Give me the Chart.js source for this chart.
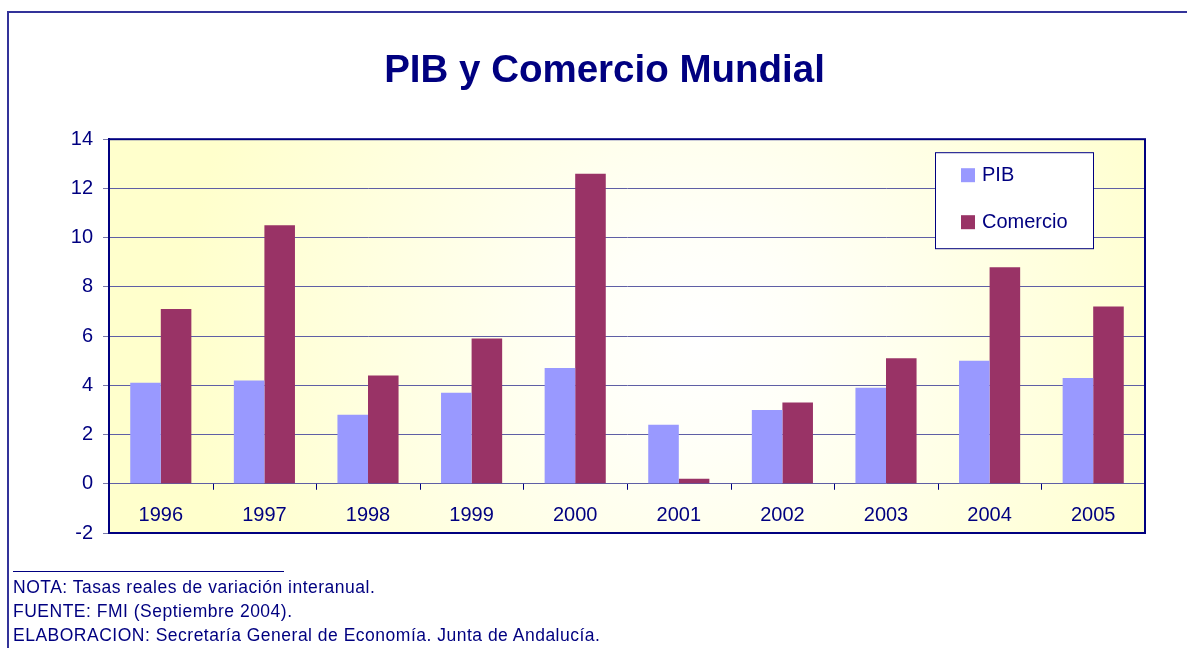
<!DOCTYPE html>
<html>
<head>
<meta charset="utf-8">
<title>PIB y Comercio Mundial</title>
<script src="https://cdn.jsdelivr.net/npm/chart.js@4.4.1/dist/chart.umd.min.js"></script>
<style>
  body { margin: 0; background: #fff; }
  #marco { position: absolute; left: 7px; top: 11px; width: 1180px; height: 637px;
           border-left: 2px solid #333399; border-top: 2px solid #333399; }
  #grafico { position: absolute; left: 0; top: 0; }
  #notas { position: absolute; left: 13px; top: 571px; color: #000080; letter-spacing: 0.5px;
           font-family: 'Liberation Sans', Arial, sans-serif; font-size: 17.5px; line-height: 24px; }
  #linea { width: 271px; border-top: 1px solid #000080; margin-bottom: 3px; }
</style>
</head>
<body>
<div id="marco"></div>
<canvas id="grafico" width="1187" height="648"></canvas>
<div id="notas">
  <div id="linea"></div>
  <div>NOTA: Tasas reales de variación interanual.</div>
  <div>FUENTE: FMI (Septiembre 2004).</div>
  <div>ELABORACION: Secretaría General de Economía. Junta de Andalucía.</div>
</div>
<script>
// Datos
const anios = ['1996', '1997', '1998', '1999', '2000', '2001', '2002', '2003', '2004', '2005'];
const pib = [4.1, 4.2, 2.8, 3.7, 4.7, 2.4, 3.0, 3.9, 5.0, 4.3];
const comercio = [7.1, 10.5, 4.4, 5.9, 12.6, 0.2, 3.3, 5.1, 8.8, 7.2];

const azul = '#000080';
const fuente = "'Liberation Sans', Arial, sans-serif";

// Fondo degradado del área de trazado
const fondo = {
    id: 'fondo',
    beforeDraw(chart) {
        const { ctx, chartArea: a } = chart;
        const g = ctx.createRadialGradient(a.left + a.width * 0.57, a.top + a.height * 0.5, 0,
                                           a.left + a.width * 0.57, a.top + a.height * 0.5, 520);
        g.addColorStop(0, '#ffffff');
        g.addColorStop(0.2, '#fffff8');
        g.addColorStop(1, '#ffffcc');
        ctx.save();
        ctx.fillStyle = g;
        ctx.fillRect(a.left, a.top, a.width, a.height);
        ctx.restore();
    }
};

// Etiquetas de años dentro del área, marcas del eje, borde y leyenda
const extras = {
    id: 'extras',
    afterDraw(chart) {
        const { ctx, chartArea: a, scales: { x, y } } = chart;
        ctx.save();

        // marcas entre categorías bajo la línea del cero
        const y0 = y.getPixelForValue(0);
        ctx.strokeStyle = azul;
        ctx.lineWidth = 1;
        for (let i = 1; i < anios.length; i++) {
            const px = Math.round((x.getPixelForValue(i - 1) + x.getPixelForValue(i)) / 2) + 0.5;
            ctx.beginPath();
            ctx.moveTo(px, y0);
            ctx.lineTo(px, y0 + 6);
            ctx.stroke();
        }

        // años
        ctx.fillStyle = azul;
        ctx.font = '20px ' + fuente;
        ctx.textAlign = 'center';
        ctx.textBaseline = 'middle';
        anios.forEach((anio, i) => {
            ctx.fillText(anio, x.getPixelForValue(i), y.getPixelForValue(-1) + 7);
        });

        // borde del área de trazado
        ctx.strokeStyle = azul;
        ctx.lineWidth = 2;
        ctx.strokeRect(a.left, a.top, a.width, a.height);

        // leyenda
        const lx = a.right - 210, ly = a.top + 13;
        ctx.fillStyle = '#ffffff';
        ctx.fillRect(lx, ly, 158, 96);
        ctx.strokeStyle = azul;
        ctx.lineWidth = 1;
        ctx.strokeRect(lx + 0.5, ly + 0.5, 158, 96);
        ctx.textAlign = 'left';
        chart.data.datasets.forEach((ds, i) => {
            const cy = ly + 23 + i * 47;
            ctx.fillStyle = ds.backgroundColor;
            ctx.fillRect(lx + 26, cy - 7, 14, 14);
            ctx.fillStyle = azul;
            ctx.fillText(ds.label, lx + 47, cy);
        });
        ctx.restore();
    }
};

new Chart(document.getElementById('grafico'), {
    type: 'bar',
    data: {
        labels: anios,
        datasets: [
            { label: 'PIB', data: pib, backgroundColor: '#9999ff' },
            { label: 'Comercio', data: comercio, backgroundColor: '#993366' }
        ]
    },
    options: {
        responsive: false,
        animation: false,
        layout: { padding: { left: 64, right: 42, top: 0, bottom: 115 } },
        categoryPercentage: 0.59,
        barPercentage: 1,
        plugins: {
            legend: { display: false },
            tooltip: { enabled: false },
            title: {
                display: true,
                text: 'PIB y Comercio Mundial',
                color: azul,
                font: { family: fuente, size: 38.5, weight: 'bold' },
                padding: { top: 48, bottom: 45 }
            }
        },
        scales: {
            x: { display: false },
            y: {
                min: -2,
                max: 14,
                ticks: { stepSize: 2, color: azul, padding: 10, font: { family: fuente, size: 20 } },
                grid: { color: '#5f5fa5', tickColor: '#7777aa', tickLength: 6 },
                border: { color: azul, width: 2 },
                afterFit(scale) { scale.width = 45; }
            }
        }
    },
    plugins: [fondo, extras]
});
</script>
</body>
</html>
